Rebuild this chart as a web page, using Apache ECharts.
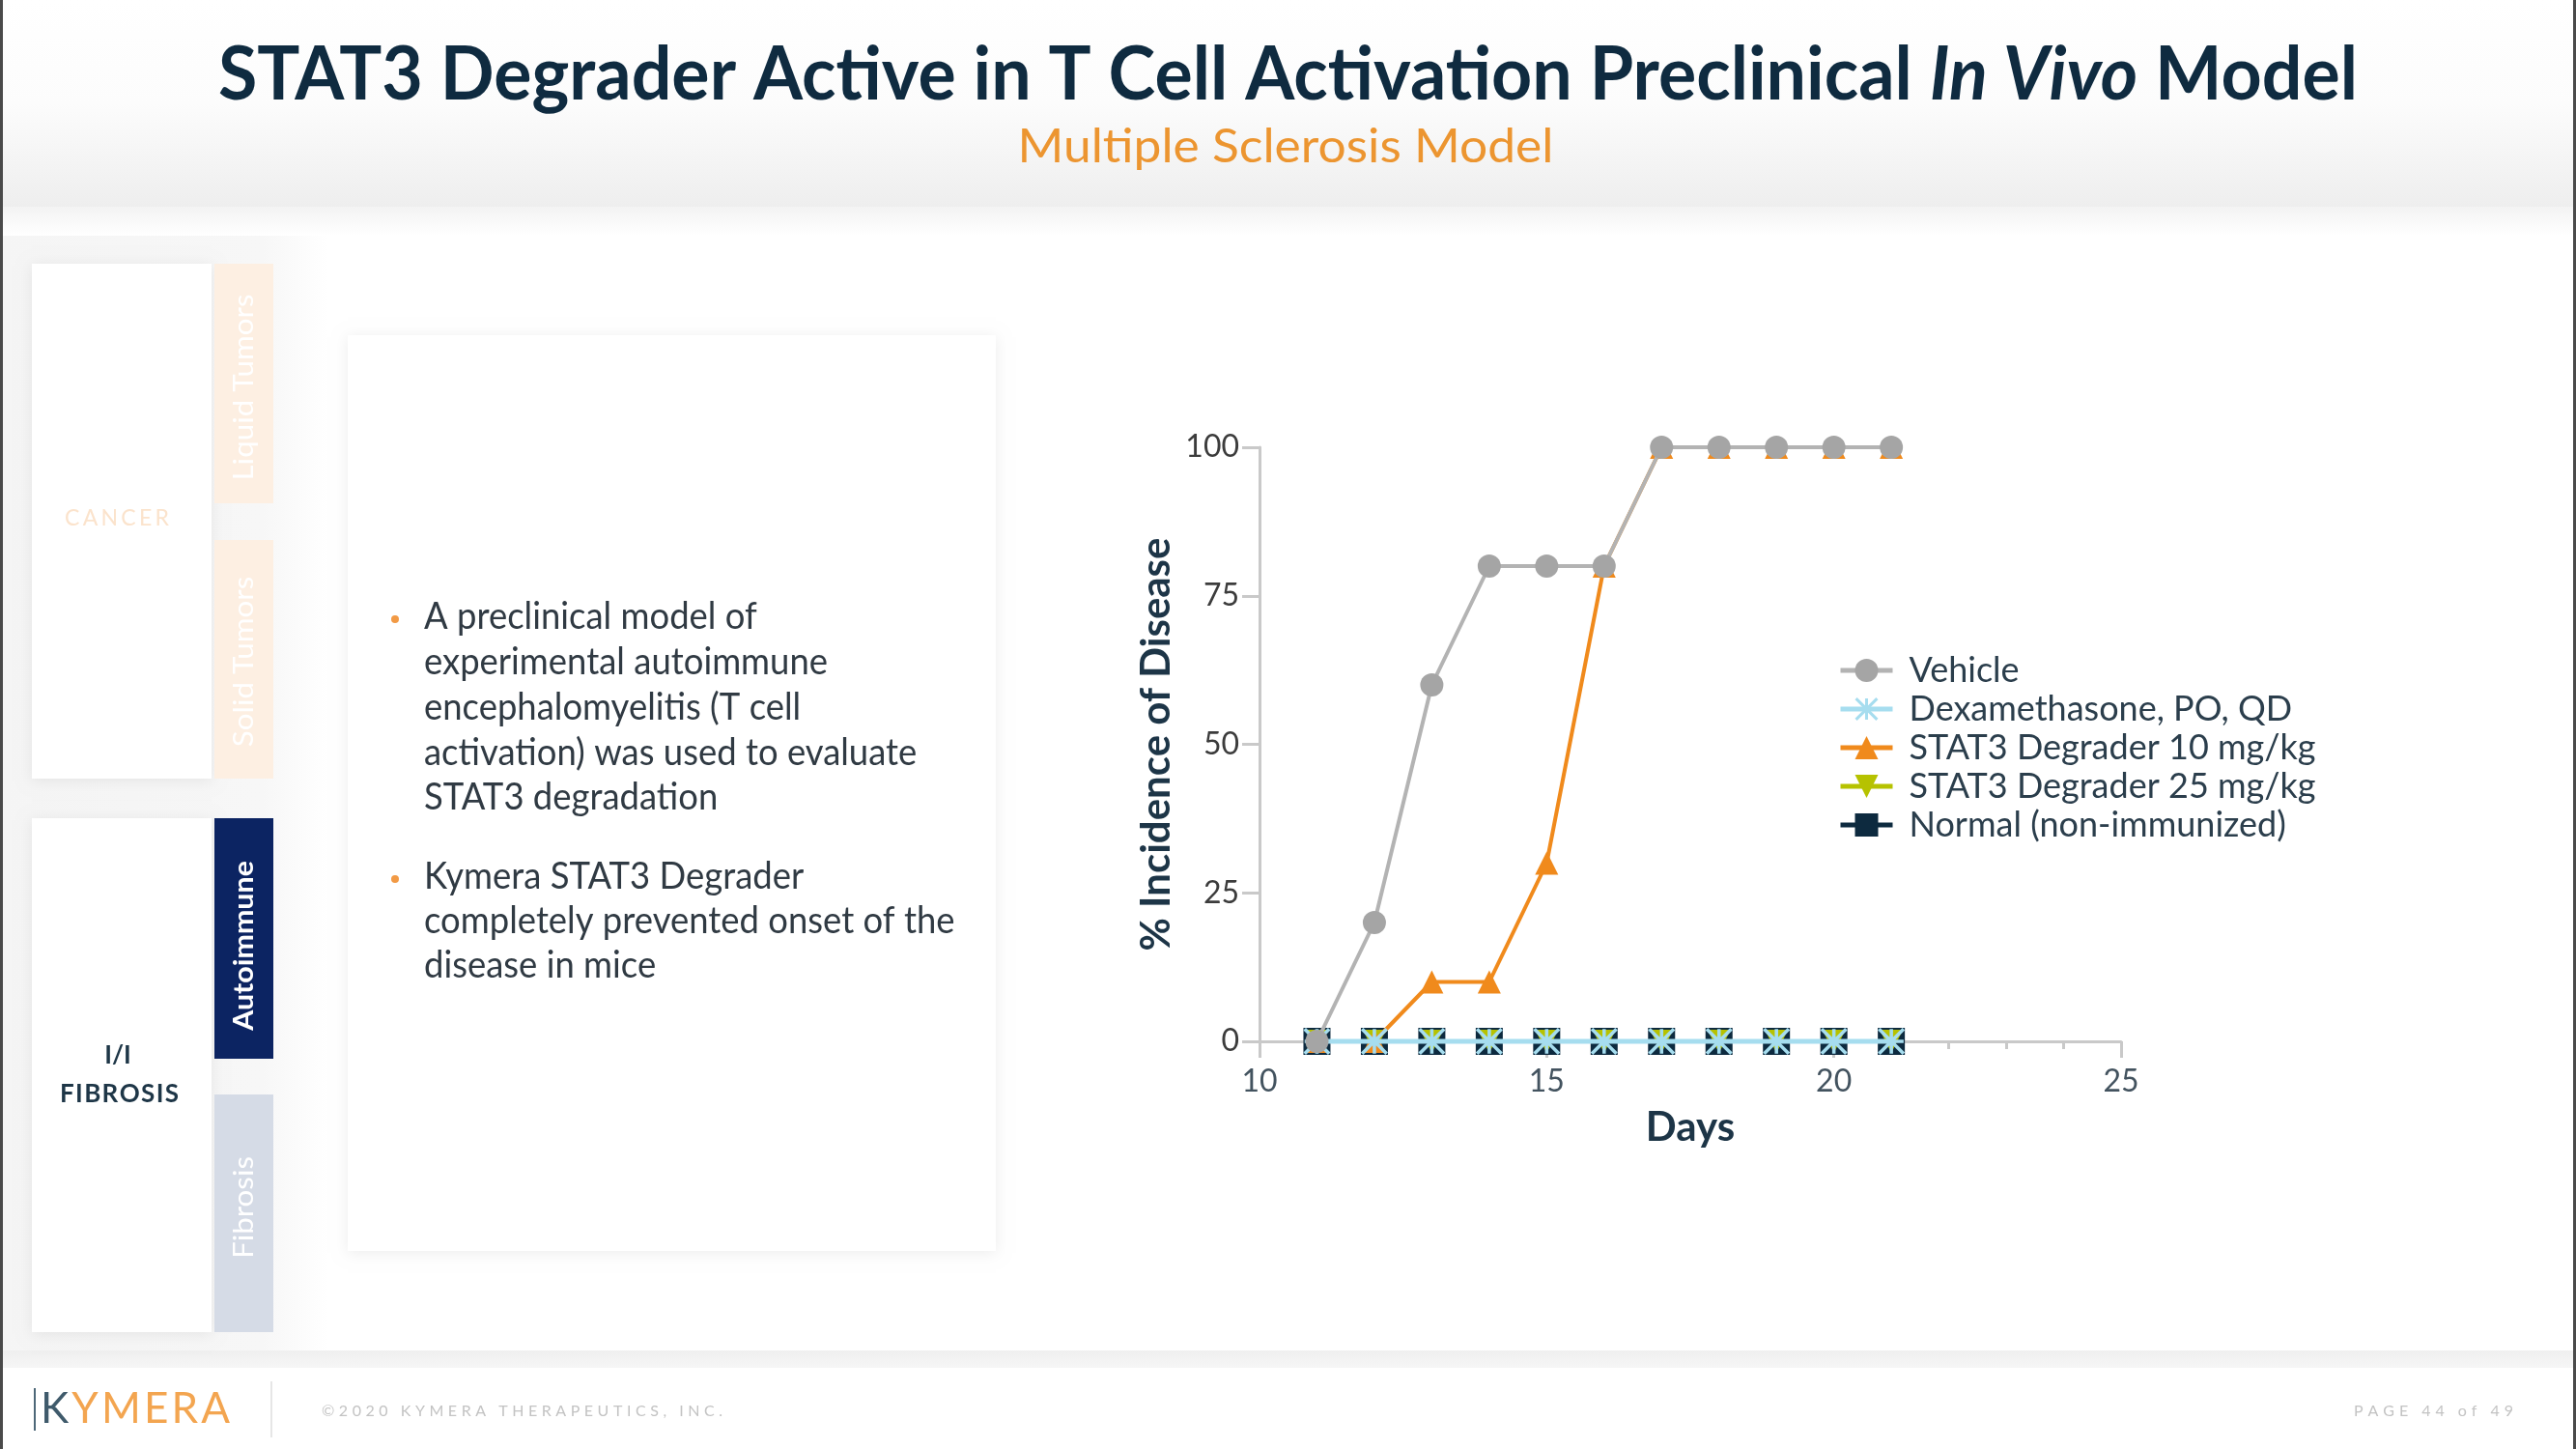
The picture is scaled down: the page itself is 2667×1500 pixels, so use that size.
<!DOCTYPE html>
<html><head><meta charset="utf-8">
<script src="https://cdn.jsdelivr.net/npm/echarts@6/dist/echarts.min.js"></script>
<style>html,body{margin:0;padding:0;background:#fff}#c{width:2667px;height:1500px}</style>
</head><body><div id="c"></div>
<script>
// ---- DATA ----
const days = [11, 12, 13, 14, 15, 16, 17, 18, 19, 20, 21];
const vehicle = [0, 20, 60, 80, 80, 80, 100, 100, 100, 100, 100];
const dexamethasone = [0, 0, 0, 0, 0, 0, 0, 0, 0, 0, 0];
const stat3_10 = [0, 0, 10, 10, 30, 80, 100, 100, 100, 100, 100];
const stat3_25 = [0, 0, 0, 0, 0, 0, 0, 0, 0, 0, 0];
const normal = [0, 0, 0, 0, 0, 0, 0, 0, 0, 0, 0];
const seriesNames = ['Vehicle', 'Dexamethasone, PO, QD', 'STAT3 Degrader 10 mg/kg', 'STAT3 Degrader 25 mg/kg', 'Normal (non-immunized)'];
const xRange = [10, 25];
const xStep = 5;
const yRange = [0, 100];
const yStep = 25;

const titleParts = ['STAT3 Degrader Active in T Cell Activation Preclinical ', 'In Vivo', ' Model'];
const subtitle = 'Multiple Sclerosis Model';
const bullet1 = ['A preclinical model of', 'experimental autoimmune', 'encephalomyelitis (T cell', 'activation) was used to evaluate', 'STAT3 degradation'];
const bullet2 = ['Kymera STAT3 Degrader', 'completely prevented onset of the', 'disease in mice'];

// ---- helpers ----
const ctx = document.createElement('canvas').getContext('2d');
function tw(t, f) { ctx.font = f; return ctx.measureText(t).width; }
const pairs = arr => days.map((d, i) => [d, arr[i]]);
function txt(x, y, text, font, fill, align, extra) {
  return Object.assign({ type: 'text', x: x, y: y, silent: true,
    style: { text: text, font: font, fill: fill, textAlign: align || 'left', align: align || 'left', textVerticalAlign: 'middle', verticalAlign: 'middle' } }, extra || {});
}
function spacedLeft(text, left, y, font, fill, totalW) {
  const chars = [...text];
  const w = chars.map(c => tw(c, font));
  const nat = w.reduce((a, b) => a + b, 0);
  const gap = (totalW - nat) / (chars.length - 1);
  let x = left; const out = [];
  chars.forEach((c, i) => { out.push(txt(x, y, c, font, fill, 'left')); x += w[i] + gap; });
  return out;
}
function spacedCenter(text, cx, y, font, fill, totalW) { return spacedLeft(text, cx - totalW / 2, y, font, fill, totalW); }

const G = [];
// header gradient
G.push({ type: 'rect', shape: { x: 0, y: 0, width: 2667, height: 214 }, silent: true,
  style: { fill: { type: 'linear', x: 0, y: 0, x2: 0, y2: 1, colorStops: [{ offset: 0, color: '#ffffff' }, { offset: 0.5, color: '#fcfcfc' }, { offset: 1, color: '#eeeeee' }] } } });
G.push({ type: 'rect', shape: { x: 0, y: 214, width: 2667, height: 30 }, silent: true,
  style: { fill: { type: 'linear', x: 0, y: 0, x2: 0, y2: 1, colorStops: [{ offset: 0, color: '#f3f3f3' }, { offset: 1, color: '#ffffff' }] } } });
// sidebar panel
G.push({ type: 'rect', shape: { x: 0, y: 244, width: 340, height: 1156 }, silent: true,
  style: { fill: { type: 'linear', x: 0, y: 0, x2: 1, y2: 0, colorStops: [{ offset: 0, color: '#f5f5f5' }, { offset: 0.8, color: '#f7f7f7' }, { offset: 1, color: '#ffffff' }] } } });
// footer
G.push({ type: 'rect', shape: { x: 0, y: 1398, width: 2667, height: 18 }, silent: true,
  style: { fill: { type: 'linear', x: 0, y: 0, x2: 0, y2: 1, colorStops: [{ offset: 0, color: '#efefef' }, { offset: 1, color: '#f6f6f6' }] } } });
// side borders
G.push({ type: 'rect', shape: { x: 0, y: 0, width: 3, height: 1500 }, silent: true, style: { fill: '#4a4a4a' } });
G.push({ type: 'rect', shape: { x: 2664, y: 0, width: 3, height: 1500 }, silent: true, style: { fill: '#4a4a4a' } });

// title
const fB = 'bold 77px Lato', fI = 'italic bold 77px Lato';
const w1 = tw(titleParts[0], fB), w2 = tw(titleParts[1], fI), w3 = tw(titleParts[2], fB);
const tS = 2215 / (w1 + w2 + w3), tL = 226, tY = 78, tC = '#0f2b40';
G.push(txt(tL, tY, titleParts[0], fB, tC, 'left', { scaleX: tS }));
G.push(txt(tL + w1 * tS, tY, titleParts[1], fI, tC, 'left', { scaleX: tS }));
G.push(txt(tL + (w1 + w2) * tS, tY, titleParts[2], fB, tC, 'left', { scaleX: tS }));
const fS = '49px Lato';
G.push(txt(1331, 152, subtitle, fS, '#ec9530', 'center', { scaleX: 555 / tw(subtitle, fS) }));

// sidebar cards
const shadow = { shadowBlur: 14, shadowColor: 'rgba(0,0,0,0.07)', shadowOffsetX: 0, shadowOffsetY: 2 };
G.push({ type: 'rect', shape: { x: 33, y: 273, width: 186, height: 533 }, silent: true, style: Object.assign({ fill: '#ffffff' }, shadow) });
G.push({ type: 'rect', shape: { x: 33, y: 847, width: 186, height: 532 }, silent: true, style: Object.assign({ fill: '#ffffff' }, shadow) });
G.push({ type: 'rect', shape: { x: 222, y: 273, width: 61, height: 248 }, silent: true, style: { fill: '#fdefe2' } });
G.push({ type: 'rect', shape: { x: 222, y: 559, width: 61, height: 247 }, silent: true, style: { fill: '#fdefe2' } });
G.push({ type: 'rect', shape: { x: 222, y: 847, width: 61, height: 249 }, silent: true, style: { fill: '#0c2462' } });
G.push({ type: 'rect', shape: { x: 222, y: 1133, width: 61, height: 246 }, silent: true, style: { fill: '#d5dbe6' } });
G.push(txt(253, 401, 'Liquid Tumors', '32px Lato', '#ffffff', 'center', { rotation: Math.PI / 2, scaleX: 0.98, scaleY: 0.9 }));
G.push(txt(253, 685, 'Solid Tumors', '32px Lato', '#ffffff', 'center', { rotation: Math.PI / 2, scaleX: 0.98, scaleY: 0.9 }));
G.push(txt(253, 979, 'Autoimmune', 'bold 32px Lato', '#ffffff', 'center', { rotation: Math.PI / 2, scaleX: 0.95, scaleY: 0.9 }));
G.push(txt(253, 1250, 'Fibrosis', '32px Lato', '#ffffff', 'center', { rotation: Math.PI / 2, scaleX: 0.98, scaleY: 0.9 }));
spacedCenter('CANCER', 121, 537, '23px Lato', '#fbe3cc', 108).forEach(e => G.push(e));
G.push(txt(122, 1093, 'I/I', 'bold 26px Lato', '#1e3647', 'center'));
spacedCenter('FIBROSIS', 123.5, 1133, 'bold 26px Lato', '#1e3647', 123).forEach(e => G.push(e));

// text card
G.push({ type: 'rect', shape: { x: 360, y: 347, width: 671, height: 948 }, silent: true, style: Object.assign({ fill: '#ffffff' }, shadow) });
const fT = '39px Lato';
const bS = 418 / tw('experimental autoimmune', fT);
const b1Y = [638, 685, 732, 779, 825];
const b2Y = [907, 953, 999];
bullet1.forEach((l, i) => G.push(txt(439, b1Y[i], l, fT, '#303a43', 'left', { scaleX: bS })));
bullet2.forEach((l, i) => G.push(txt(439, b2Y[i], l, fT, '#303a43', 'left', { scaleX: bS })));
G.push({ type: 'circle', shape: { cx: 409, cy: 641, r: 4 }, silent: true, style: { fill: '#f29a45' } });
G.push({ type: 'circle', shape: { cx: 409, cy: 910, r: 4 }, silent: true, style: { fill: '#f29a45' } });

// footer
G.push({ type: 'rect', shape: { x: 35, y: 1437, width: 2, height: 44 }, silent: true, style: { fill: '#4d6778' } });
const fK = '44px Lato';
const kEls = spacedLeft('KYMERA', 42, 1459, fK, '#f3a550', 196);
kEls[0].style.fill = '#3f5a6b';
kEls.forEach(e => G.push(e));
G.push({ type: 'rect', shape: { x: 280, y: 1430, width: 2, height: 58 }, silent: true, style: { fill: '#e6e6e6' } });
spacedLeft('©2020 KYMERA THERAPEUTICS, INC.', 333, 1461, '16px Lato', '#c3c3c3', 415).forEach(e => G.push(e));
spacedLeft('PAGE 44 of 49', 2437, 1461, '16px Lato', '#c3c3c3', 165).forEach(e => G.push(e));

const asterisk = 'path://M-1.4,-10L1.4,-10L1.4,10L-1.4,10Z M-10,-1.4L10,-1.4L10,1.4L-10,1.4Z M-9,-11L11,9L9,11L-11,-9Z M11,-9L-9,11L-11,9L9,-11Z';
const invTri = 'path://M0,0L20,0L10,18Z';
const axisGrey = '#c9c9c9';

const chart = echarts.init(document.getElementById('c'), null, { renderer: 'canvas' });
chart.setOption({
  backgroundColor: '#ffffff',
  animation: false,
  textStyle: { fontFamily: 'Lato' },
  graphic: { elements: G },
  grid: { left: 1304, top: 463, width: 892, height: 615 },
  xAxis: {
    type: 'value', min: xRange[0], max: xRange[1], interval: xStep,
    name: 'Days', nameLocation: 'middle', nameGap: 68,
    nameTextStyle: { fontFamily: 'Lato', fontWeight: 'bold', fontSize: 42, color: '#1d3547' },
    axisLine: { show: true, onZero: false, lineStyle: { color: axisGrey, width: 3 } },
    axisTick: { show: true, length: 17, lineStyle: { color: axisGrey, width: 3 } },
    minorTick: { show: true, splitNumber: 5, length: 8, lineStyle: { color: axisGrey, width: 3 } },
    axisLabel: { fontSize: 32, color: '#43535f', margin: 26, fontFamily: 'Lato' },
    splitLine: { show: false }
  },
  yAxis: {
    type: 'value', min: yRange[0], max: yRange[1], interval: yStep,
    name: '% Incidence of Disease', nameLocation: 'middle', nameGap: 86, nameRotate: 90,
    nameTextStyle: { fontFamily: 'Lato', fontWeight: 'bold', fontSize: 42, color: '#1d3547' },
    axisLine: { show: true, lineStyle: { color: axisGrey, width: 3 } },
    axisTick: { show: true, length: 18, lineStyle: { color: axisGrey, width: 3 } },
    axisLabel: { fontSize: 32, color: '#3c3c3c', margin: 21, fontFamily: 'Lato' },
    splitLine: { show: false }
  },
  legend: {
    orient: 'vertical', left: 1898, top: 670, itemGap: 2, itemWidth: 54, itemHeight: 30,
    data: seriesNames,
    lineStyle: { width: 5 },
    textStyle: { fontFamily: 'Lato', fontSize: 36, color: '#2b3e4c', lineHeight: 38, padding: [0, 0, 0, 12] }
  },
  series: [
    { name: seriesNames[0], type: 'line', data: pairs(vehicle), z: 6, clip: false, symbol: 'circle', symbolSize: 24,
      itemStyle: { color: '#a5a5a5' }, lineStyle: { color: '#b3b3b3', width: 4 }, emphasis: { disabled: true } },
    { name: seriesNames[1], type: 'line', data: pairs(dexamethasone), z: 5, clip: false, symbol: asterisk, symbolSize: 28,
      itemStyle: { color: '#a6ddef' }, lineStyle: { color: '#a6ddef', width: 5 }, emphasis: { disabled: true } },
    { name: seriesNames[2], type: 'line', data: pairs(stat3_10), z: 4, clip: false, symbol: 'triangle', symbolSize: 24,
      itemStyle: { color: '#f08a1c' }, lineStyle: { color: '#f08a1c', width: 4 }, emphasis: { disabled: true } },
    { name: seriesNames[3], type: 'line', data: pairs(stat3_25), z: 3, clip: false, symbol: invTri, symbolSize: 24,
      itemStyle: { color: '#b6c200' }, lineStyle: { color: '#b6c200', width: 4 }, emphasis: { disabled: true } },
    { name: seriesNames[4], type: 'line', data: pairs(normal), z: 2, clip: false, symbol: 'rect', symbolSize: 28,
      itemStyle: { color: '#0d2a3f' }, lineStyle: { color: '#0d2a3f', width: 4 }, emphasis: { disabled: true } }
  ]
});
</script>
</body></html>
